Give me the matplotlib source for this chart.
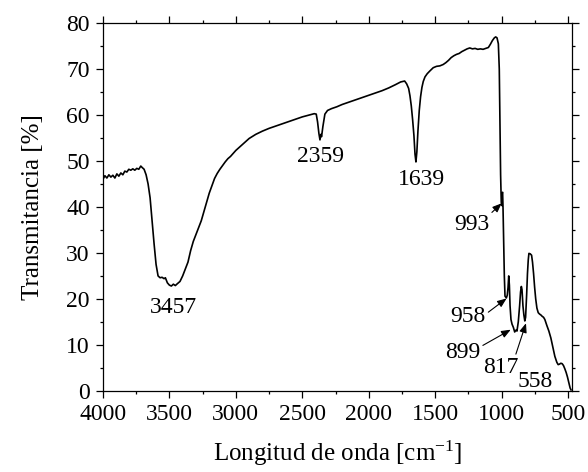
import matplotlib
matplotlib.use("Agg")
import matplotlib.pyplot as plt
from matplotlib.ticker import MultipleLocator

plt.rcParams['font.family'] = ['Liberation Serif', 'DejaVu Serif']
plt.rcParams['mathtext.fontset'] = 'custom'
plt.rcParams['mathtext.rm'] = 'Liberation Serif'
plt.rcParams['mathtext.it'] = 'Liberation Serif:italic'

# FTIR spectrum
wavenumber = [
    4000, 3985, 3970, 3955, 3940, 3925, 3910, 3895, 3880, 3865, 3850, 3835,
    3820, 3805, 3790, 3775, 3760, 3745, 3730, 3715, 3705, 3690, 3675, 3660,
    3645, 3630, 3615, 3600, 3585, 3570, 3555, 3540, 3530, 3515, 3500, 3485,
    3470, 3455, 3440, 3420, 3400, 3380, 3360, 3340, 3320, 3300, 3280, 3260,
    3240, 3220, 3200, 3180, 3160, 3140, 3120, 3100, 3080, 3060, 3040, 3000,
    2950, 2900, 2850, 2800, 2750, 2700, 2650, 2600, 2550, 2500, 2450, 2410,
    2395, 2385, 2375, 2367, 2360, 2355, 2345, 2330, 2310, 2280, 2240, 2200,
    2150, 2100, 2050, 2000, 1950, 1900, 1850, 1800, 1760, 1730, 1715, 1700,
    1690, 1680, 1670, 1660, 1652, 1645, 1638, 1630, 1620, 1610, 1600, 1590,
    1577, 1560, 1540, 1515, 1490, 1465, 1440, 1420, 1400, 1380, 1360, 1340,
    1320, 1300, 1280, 1260, 1240, 1220, 1200, 1180, 1160, 1140, 1120, 1100,
    1085, 1070, 1055, 1045, 1035, 1025, 1018, 1013, 1008, 1003, 998, 996,
    993, 990, 985, 980, 975, 965, 958, 952, 947, 942, 937, 930,
    922, 912, 902, 893, 885, 875, 865, 858, 852, 847, 840, 833,
    826, 820, 812, 806, 800, 795, 785, 775, 768, 760, 752, 744,
    735, 725, 715, 705, 695, 685, 675, 660, 645, 630, 615, 600,
    585, 575, 565, 555, 545, 535, 525, 515, 505, 495, 485, 478,
]
transmittance = [
    46.0, 46.8, 46.3, 47.0, 46.5, 46.9, 46.3, 47.2, 46.7, 47.4, 47.0, 47.8,
    47.6, 48.2, 48.0, 48.3, 48.0, 48.4, 48.2, 48.9, 48.6, 48.2, 47.0, 45.0,
    42.0, 37.0, 32.0, 27.5, 25.0, 24.6, 24.7, 24.4, 24.6, 23.5, 23.0, 22.8,
    23.2, 22.9, 23.3, 23.8, 25.0, 26.5, 28.0, 30.5, 32.5, 34.0, 35.5, 37.0,
    39.0, 41.0, 43.0, 44.6, 46.2, 47.3, 48.2, 49.0, 49.8, 50.5, 51.0, 52.3,
    53.6, 54.9, 55.8, 56.5, 57.1, 57.6, 58.1, 58.6, 59.1, 59.6, 60.0, 60.3,
    60.2, 58.5, 56.0, 54.6, 55.8, 55.3, 57.5, 60.2, 61.0, 61.4, 61.8, 62.3,
    62.8, 63.3, 63.8, 64.3, 64.8, 65.3, 65.9, 66.6, 67.2, 67.4, 66.8, 65.8,
    64.2, 62.0, 59.0, 55.5, 51.5, 49.8, 52.0, 56.5, 61.0, 64.0, 66.0, 67.3,
    68.3, 69.0, 69.6, 70.3, 70.6, 70.7, 71.0, 71.4, 71.9, 72.5, 72.9, 73.2,
    73.4, 73.8, 74.1, 74.4, 74.6, 74.4, 74.5, 74.3, 74.4, 74.3, 74.5, 74.7,
    75.4, 76.2, 76.8, 77.0, 76.8, 75.5, 70.0, 58.0, 47.0, 41.0, 40.3, 43.0,
    43.2, 40.0, 33.0, 25.0, 20.6, 20.2, 20.8, 22.5, 25.0, 23.0, 18.5, 15.5,
    14.5, 13.8, 12.8, 13.2, 13.0, 15.0, 18.5, 21.5, 22.7, 22.0, 18.5, 16.5,
    15.2, 16.0, 21.0, 25.5, 28.5, 29.9, 29.8, 29.5, 28.0, 25.5, 22.5, 20.0,
    18.0, 17.0, 16.7, 16.5, 16.2, 16.0, 15.5, 14.2, 13.0, 11.5, 9.5, 7.5,
    6.2, 5.7, 5.8, 6.0, 5.9, 5.5, 4.8, 4.0, 3.0, 1.8, 0.6, 0.2,
]

# plain peak labels (text x, baseline y)
peak_labels = ['3457', '2359', '1639', '558']
peak_text_x = [3466, 2360, 1600, 745]
peak_text_y = [17.0, 49.8, 44.8, 0.9]

# peak labels with arrows
arrow_labels = ['993', '958', '899', '817']
arrow_tip_x = [1000, 963, 932, 817]
arrow_tip_y = [40.8, 20.1, 13.3, 14.7]
arrow_text_x = [1227, 1254, 1295, 1009]
arrow_text_y = [35.0, 15.0, 7.2, 3.9]
arrow_relpos = [(1.0, 0.95), (1.0, 0.6), (1.0, 0.75), (0.9, 0.95)]

fig, ax = plt.subplots(figsize=(5.88, 4.72), dpi=100)
fig.subplots_adjust(left=0.175, right=0.973, top=0.951, bottom=0.172)

ax.plot(wavenumber, transmittance, color='black', lw=1.2)

for lab, x, y in zip(peak_labels, peak_text_x, peak_text_y):
    ax.text(x, y, lab, ha='center', va='baseline', fontsize=17)

for lab, tx, ty, ax_, ay, rp in zip(arrow_labels, arrow_text_x, arrow_text_y,
                                    arrow_tip_x, arrow_tip_y, arrow_relpos):
    ax.annotate(lab, xy=(ax_, ay), xytext=(tx, ty), ha='center', va='baseline',
                fontsize=17,
                arrowprops=dict(arrowstyle='-|>,head_length=0.55,head_width=0.22',
                                color='black', lw=0.8, mutation_scale=10,
                                shrinkA=0, shrinkB=0, relpos=rp))

ax.set_xlim(4000, 470)
ax.set_ylim(0, 80)
ax.xaxis.set_major_locator(MultipleLocator(500))
ax.xaxis.set_minor_locator(MultipleLocator(250))
ax.yaxis.set_major_locator(MultipleLocator(10))
ax.yaxis.set_minor_locator(MultipleLocator(5))
ax.tick_params(which='both', direction='out', top=True, right=True,
               labeltop=False, labelright=False, width=0.9, labelsize=17)
ax.tick_params(which='major', length=5)
ax.tick_params(which='minor', length=2.5)
ax.tick_params(axis='x', which='major', pad=4.5)
ax.tick_params(axis='y', which='major', pad=4.5)
for s in ax.spines.values():
    s.set_linewidth(0.9)

ax.set_xlabel(r'Longitud de onda [cm$^{\mathregular{-1}}$]', fontsize=18, labelpad=10)
ax.set_ylabel('Transmitancia [%]', fontsize=18, labelpad=16)

fig.savefig('out.png', dpi=100)
